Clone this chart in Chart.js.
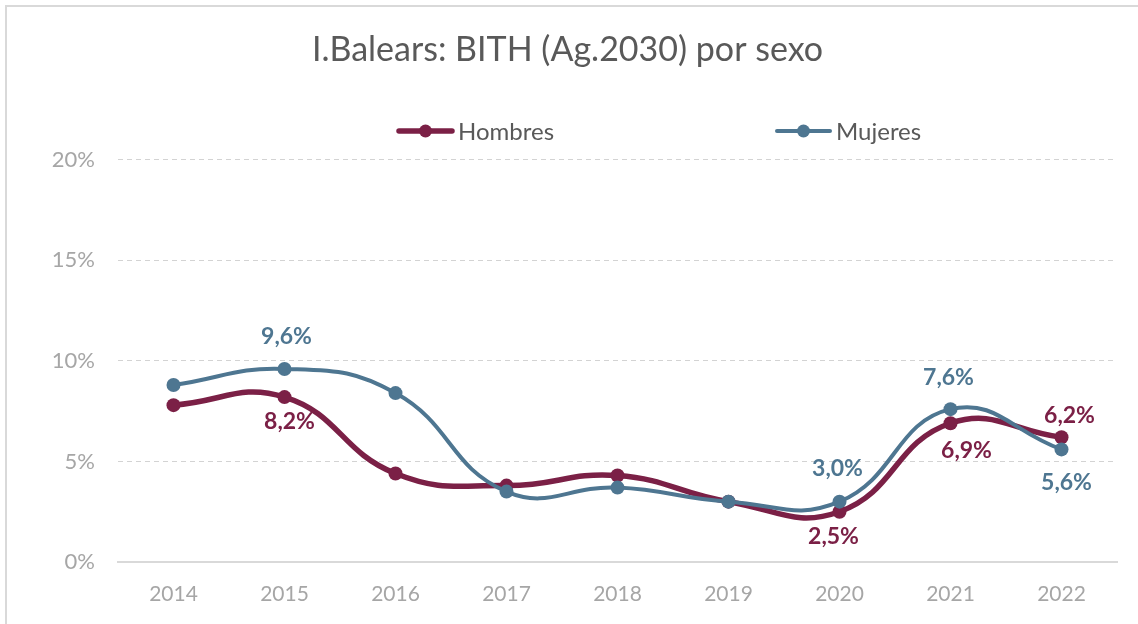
<!DOCTYPE html>
<html>
<head>
<meta charset="utf-8">
<title>I.Balears: BITH (Ag.2030) por sexo</title>
<script src="https://cdn.jsdelivr.net/npm/chart.js@4.4.1/dist/chart.umd.min.js"></script>
<style>
  html, body { margin: 0; padding: 0; background: #fff; }
  canvas { display: block; }
</style>
</head>
<body>
<canvas id="bithChart" width="1138" height="624"></canvas>
<script>
const years = ['2014', '2015', '2016', '2017', '2018', '2019', '2020', '2021', '2022'];
const hombres = [7.8, 8.2, 4.4, 3.8, 4.3, 3.0, 2.5, 6.9, 6.2];
const mujeres = [8.8, 9.6, 8.4, 3.5, 3.7, 3.0, 3.0, 7.6, 5.6];
const yMin = 0;
const yMax = 20;
const yStep = 5;

const FONT = 'Lato, "Open Sans", sans-serif';
const RED = '#7b2046';
const BLUE = '#4e7691';

const pct = v => v.toFixed(1).replace('.', ',') + '%';

// thin grey frame round the whole chart (top and left edges only show)
const frame = {
    id: 'frame',
    beforeDraw(chart) {
        const ctx = chart.ctx;
        ctx.save();
        ctx.strokeStyle = '#d9d9d9';
        ctx.lineWidth = 2;
        ctx.beginPath();
        ctx.moveTo(6, chart.height);
        ctx.lineTo(6, 6);
        ctx.lineTo(chart.width + 2, 6);
        ctx.stroke();
        ctx.restore();
    }
};

// legend: line sample with a dot, then the series name
const lineLegend = {
    id: 'lineLegend',
    afterDraw(chart, args, opts) {
        const ctx = chart.ctx;
        ctx.save();
        chart.data.datasets.forEach((ds, i) => {
            const x0 = opts.starts[i];
            const y = opts.y;
            ctx.strokeStyle = ds.borderColor;
            ctx.lineWidth = ds.borderWidth;
            ctx.lineCap = 'round';
            ctx.beginPath();
            ctx.moveTo(x0, y);
            ctx.lineTo(x0 + opts.lineLength, y);
            ctx.stroke();
            ctx.fillStyle = ds.borderColor;
            ctx.beginPath();
            ctx.arc(x0 + opts.lineLength / 2, y, opts.dotRadius, 0, Math.PI * 2);
            ctx.fill();
            ctx.fillStyle = '#595959';
            ctx.font = opts.font;
            ctx.textAlign = 'left';
            ctx.textBaseline = 'middle';
            ctx.fillText(ds.label, x0 + opts.lineLength + 6, y + 1);
        });
        ctx.restore();
    }
};

// bold value labels next to selected points
const valueLabels = {
    id: 'valueLabels',
    afterDatasetsDraw(chart) {
        const ctx = chart.ctx;
        ctx.save();
        ctx.font = 'bold 23px ' + FONT;
        ctx.textAlign = 'center';
        ctx.textBaseline = 'middle';
        chart.data.datasets.forEach((ds, i) => {
            const meta = chart.getDatasetMeta(i);
            Object.entries(ds.valueLabels || {}).forEach(([idx, off]) => {
                const pt = meta.data[idx];
                ctx.fillStyle = ds.borderColor;
                ctx.fillText(pct(ds.data[idx]), pt.x + off[0], pt.y + off[1]);
            });
        });
        ctx.restore();
    }
};

const ctx = document.getElementById('bithChart').getContext('2d');
const bithChart = new Chart(ctx, {
    type: 'line',
    data: {
        labels: years,
        datasets: [{
            label: 'Hombres',
            data: hombres,
            borderColor: RED,
            backgroundColor: RED,
            borderWidth: 5.5,
            pointRadius: 7,
            pointBorderWidth: 0,
            pointBackgroundColor: RED,
            tension: 0.45,
            order: 1,
            valueLabels: { 1: [5, 24], 6: [-6, 25], 7: [16, 27], 8: [8, -22] }
        }, {
            label: 'Mujeres',
            data: mujeres,
            borderColor: BLUE,
            backgroundColor: BLUE,
            borderWidth: 4,
            pointRadius: 7,
            pointBorderWidth: 0,
            pointBackgroundColor: BLUE,
            tension: 0.45,
            order: 0,
            valueLabels: { 1: [2, -32], 6: [-2, -33], 7: [-2, -32], 8: [5, 33] }
        }]
    },
    options: {
        responsive: false,
        animation: false,
        devicePixelRatio: 1,
        layout: {
            padding: { left: 18, right: 21, top: 0, bottom: 0 }
        },
        plugins: {
            legend: { display: false },
            tooltip: { enabled: false },
            title: {
                display: true,
                text: 'I.Balears: BITH (Ag.2030) por sexo',
                color: '#595959',
                font: { family: FONT, size: 34, weight: 'normal' },
                padding: { top: 30, bottom: 89 }
            },
            lineLegend: {
                y: 131,
                starts: [399, 777],
                lineLength: 53,
                dotRadius: 6.5,
                font: '24px ' + FONT
            }
        },
        scales: {
            x: {
                offset: true,
                grid: { display: false, drawTicks: false },
                border: { display: true, color: '#d9d9d9', width: 2 },
                ticks: {
                    color: '#a6a6a6',
                    font: { family: FONT, size: 21 },
                    padding: 20
                },
                afterFit: scale => { scale.height = 62; }
            },
            y: {
                min: yMin,
                max: yMax,
                grid: { color: '#d3d3d3', lineWidth: 1, drawTicks: false },
                border: { display: false, dash: [5, 4] },
                ticks: {
                    stepSize: yStep,
                    color: '#a6a6a6',
                    font: { family: FONT, size: 22 },
                    padding: 23,
                    callback: v => v + '%'
                },
                afterFit: scale => { scale.width = 100; }
            }
        }
    },
    plugins: [frame, lineLegend, valueLabels]
});
</script>
</body>
</html>
